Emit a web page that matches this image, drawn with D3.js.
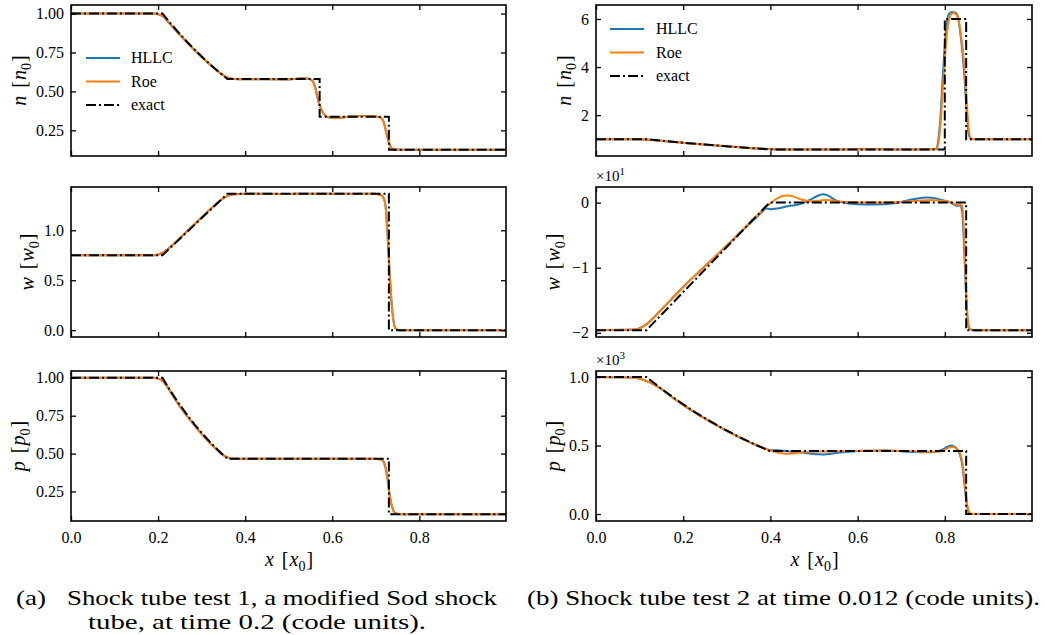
<!DOCTYPE html>
<html>
<head>
<meta charset="utf-8">
<script src="https://cdn.jsdelivr.net/npm/d3@7"></script>
<style>
  body { margin: 0; background: #fff; }
  svg text { font-family: "Liberation Serif", "Times New Roman", serif; fill: #000; }
</style>
</head>
<body>
<svg id="fig" width="1045" height="635"></svg>
<script>
// ---- test 1 (modified Sod), t = 0.2 ----
const xsL = [0, 0.19, 0.2, 0.21, 0.22, 0.23, 0.25, 0.27, 0.29, 0.31, 0.33, 0.345, 0.355, 0.365, 0.375, 0.4, 0.45, 0.5, 0.52, 0.535, 0.548, 0.556, 0.561, 0.566, 0.571, 0.577, 0.585, 0.595, 0.61, 0.64, 0.67, 0.695, 0.71, 0.717, 0.722, 0.727, 0.732, 0.738, 0.745, 0.755, 0.999];
const roeN1 = [1, 1, 0.996, 0.985, 0.958, 0.926, 0.864, 0.804, 0.748, 0.695, 0.646, 0.613, 0.594, 0.584, 0.58, 0.578, 0.578, 0.577, 0.582, 0.585, 0.58, 0.56, 0.52, 0.46, 0.41, 0.37, 0.342, 0.33, 0.329, 0.338, 0.342, 0.34, 0.332, 0.31, 0.26, 0.2, 0.155, 0.132, 0.126, 0.125, 0.125];
const hllcN1 = [1, 1, 0.996, 0.984, 0.957, 0.925, 0.863, 0.804, 0.748, 0.695, 0.646, 0.613, 0.595, 0.585, 0.58, 0.578, 0.578, 0.577, 0.581, 0.584, 0.58, 0.562, 0.523, 0.463, 0.412, 0.371, 0.343, 0.331, 0.33, 0.338, 0.342, 0.34, 0.333, 0.312, 0.262, 0.202, 0.156, 0.132, 0.126, 0.125, 0.125];
const roeW1 = [0.75, 0.751, 0.757, 0.775, 0.803, 0.84, 0.922, 1.005, 1.088, 1.17, 1.25, 1.305, 1.335, 1.352, 1.36, 1.365, 1.364, 1.364, 1.365, 1.366, 1.365, 1.365, 1.365, 1.365, 1.365, 1.365, 1.365, 1.365, 1.365, 1.364, 1.365, 1.365, 1.355, 1.33, 1.25, 0.95, 0.55, 0.18, 0.02, 0, 0];
const hllcW1 = [0.75, 0.751, 0.756, 0.774, 0.802, 0.839, 0.921, 1.004, 1.087, 1.17, 1.25, 1.304, 1.334, 1.352, 1.36, 1.365, 1.365, 1.364, 1.365, 1.366, 1.365, 1.365, 1.365, 1.365, 1.365, 1.365, 1.365, 1.365, 1.365, 1.365, 1.365, 1.365, 1.356, 1.33, 1.26, 0.96, 0.56, 0.19, 0.02, 0, 0];
const roeP1 = [1, 1, 0.995, 0.98, 0.948, 0.9, 0.813, 0.735, 0.663, 0.597, 0.538, 0.5, 0.48, 0.469, 0.466,
  0.466, 0.466, 0.466, 0.466, 0.466, 0.466, 0.466, 0.466, 0.466, 0.466, 0.466, 0.466, 0.466, 0.466, 0.466, 0.466, 0.466,
  0.462, 0.45, 0.41, 0.33, 0.22, 0.14, 0.105, 0.1, 0.1];
const hllcP1 = [1, 1, 0.995, 0.979, 0.947, 0.899, 0.812, 0.735, 0.663, 0.597, 0.538, 0.5, 0.481, 0.47, 0.466,
  0.466, 0.466, 0.466, 0.466, 0.466, 0.466, 0.466, 0.466, 0.466, 0.466, 0.466, 0.466, 0.466, 0.466, 0.466, 0.466, 0.466,
  0.463, 0.451, 0.413, 0.334, 0.224, 0.142, 0.106, 0.1, 0.1];
const xE1 = [0, 0.21, 0.2286, 0.2473, 0.2659, 0.2845, 0.3031, 0.3218, 0.3404, 0.359, 0.571, 0.571, 0.73, 0.73, 0.999];
const nE1 = [1, 1, 0.9371, 0.8775, 0.8209, 0.7672, 0.7165, 0.6684, 0.623, 0.58, 0.58, 0.337, 0.337, 0.125, 0.125];
const wE1 = [0.75, 0.75, 0.8269, 0.9038, 0.9806, 1.0575, 1.1344, 1.2113, 1.2881, 1.365, 1.365, 1.365, 1.365, 0, 0];
const pE1 = [1, 1, 0.9131, 0.8328, 0.7585, 0.69, 0.627, 0.569, 0.5156, 0.4658, 0.4658, 0.4658, 0.4658, 0.1, 0.1];

// ---- test 2, t = 0.012 ----
const xsR = [0, 0.09, 0.1, 0.11, 0.12, 0.13, 0.15, 0.18, 0.21, 0.24, 0.27, 0.3, 0.33, 0.36, 0.38, 0.39, 0.4, 0.41, 0.42, 0.43, 0.44, 0.45, 0.47, 0.49, 0.51, 0.52, 0.53, 0.55, 0.58, 0.62, 0.66, 0.7, 0.73, 0.76, 0.78, 0.785, 0.79, 0.795, 0.8, 0.805, 0.81, 0.815, 0.82, 0.825, 0.83, 0.835, 0.84, 0.845, 0.85, 0.855, 0.86, 0.87, 1.0];
const roeN2 = [1, 1, 0.997, 0.99, 0.978, 0.962, 0.93, 0.882, 0.834, 0.788, 0.744, 0.702, 0.662, 0.624, 0.602, 0.592, 0.584, 0.578, 0.574, 0.572, 0.571, 0.571, 0.572, 0.574, 0.575, 0.575, 0.575, 0.575, 0.576, 0.576, 0.576, 0.575, 0.575, 0.577, 0.58, 0.8, 1.6, 3.0, 4.3, 5.4, 6.0, 6.2, 6.25, 6.22, 6.05, 5.6, 4.9, 4.0, 2.6, 1.4, 1.03, 1, 1];
const hllcN2 = [1, 1, 0.997, 0.99, 0.978, 0.962, 0.93, 0.882, 0.834, 0.788, 0.744, 0.702, 0.662, 0.624, 0.602, 0.591, 0.582, 0.576, 0.572, 0.569, 0.567, 0.567, 0.569, 0.572, 0.574, 0.575, 0.575, 0.575, 0.576, 0.576, 0.576, 0.575, 0.575, 0.577, 0.6, 0.95, 1.9, 3.5, 4.9, 5.9, 6.22, 6.28, 6.28, 6.26, 6.1, 5.5, 4.7, 3.6, 2.2, 1.2, 1.01, 1, 1];
const roeW2 = [-19.597, -19.5, -19.3, -18.95, -18.45, -17.85, -16.45, -14.35, -12.3, -10.4, -8.5, -6.6, -4.6, -2.6, -1.3, -0.6, -0.1, 0.4, 0.8, 1.05, 1.1, 1.0, 0.5, 0.2, 0.3, 0.38, 0.4, 0.25, 0.05, 0, 0, 0.1, 0.25, 0.35, 0.35, 0.33, 0.3, 0.25, 0.2, 0.2, 0.15, 0.05, -0.1, -0.3, -0.35, -0.3, -0.5, -6, -15, -19, -19.5, -19.597, -19.597];
const hllcW2 = [-19.597, -19.5, -19.3, -18.95, -18.45, -17.85, -16.45, -14.35, -12.3, -10.4, -8.5, -6.6, -4.65, -2.75, -1.5, -0.9, -1.0, -0.95, -0.85, -0.7, -0.55, -0.45, -0.2, 0.4, 1.1, 1.3, 1.15, 0.35, -0.15, -0.3, -0.25, 0.1, 0.55, 0.8, 0.65, 0.55, 0.45, 0.35, 0.3, 0.2, 0.1, -0.05, -0.25, -0.45, -0.5, -0.45, -1.5, -8, -16, -19.2, -19.55, -19.597, -19.597];
const roeP2 = [1000, 995, 988, 978, 965, 950, 912, 840, 775, 715, 660, 607, 558, 513, 487, 475, 465, 455, 447, 442, 440, 442, 450, 455, 456, 456, 456, 458, 460, 462, 463, 462, 458, 455, 455, 456, 458, 463, 470, 478, 485, 490, 490, 482, 468, 440, 380, 250, 100, 20, 2, 0.01, 0.01];
const hllcP2 = [1000, 995, 988, 978, 965, 950, 912, 840, 775, 715, 660, 607, 558, 513, 487, 475, 466, 466, 464, 461, 458, 455, 449, 442, 436, 435, 437, 445, 455, 462, 463, 458, 452, 450, 455, 459, 464, 471, 480, 490, 497, 500, 496, 485, 465, 430, 360, 220, 80, 12, 1, 0.01, 0.01];
const xE2 = [0, 0.1158, 0.1511, 0.1864, 0.2216, 0.2569, 0.2922, 0.3275, 0.3627, 0.398, 0.8, 0.8, 0.849, 0.849, 1.0];
const nE2 = [1, 1, 0.9362, 0.8757, 0.8184, 0.7641, 0.7128, 0.6642, 0.6184, 0.5751, 0.5751, 5.9992, 5.9992, 1, 1];
const wE2 = [-19.597, -19.597, -17.148, -14.698, -12.248, -9.799, -7.349, -4.899, -2.45, 0, 0, 0, 0, -19.597, -19.597];
const pE2 = [1000, 1000, 911.9, 830.5, 755.4, 686.2, 622.5, 563.9, 510.2, 460.9, 460.9, 460.9, 460.9, 0.01, 0.01];

const xTicks = [0, 0.2, 0.4, 0.6, 0.8];
const seriesNames = ["HLLC", "Roe", "exact"];
const colors = { HLLC: "#1f77b4", Roe: "#ff7f0e", exact: "#000" };

// layout
const cols = [
  { x0: 71, x1: 506, dom: [0, 0.999], xs: xsL, xe: xE1 },
  { x0: 596, x1: 1032, dom: [0, 1.0], xs: xsR, xe: xE2 }
];
const rows = [[5, 156], [187, 337], [371, 521]];

const panels = [
  { c: 0, r: 0, sym: "n", hllc: hllcN1, roe: roeN1, ex: nE1, yd: [0.085, 1.055], yt: [0.25, 0.5, 0.75, 1], fmt: d3.format(".2f"), lx: 19 },
  { c: 0, r: 1, sym: "w", hllc: hllcW1, roe: roeW1, ex: wE1, yd: [-0.068, 1.433], yt: [0, 0.5, 1], fmt: d3.format(".1f"), lx: 27 },
  { c: 0, r: 2, sym: "p", hllc: hllcP1, roe: roeP1, ex: pE1, yd: [0.055, 1.045], yt: [0.25, 0.5, 0.75, 1], fmt: d3.format(".2f"), lx: 18 },
  { c: 1, r: 0, sym: "n", hllc: hllcN2, roe: roeN2, ex: nE2, yd: [0.30, 6.58], yt: [2, 4, 6], fmt: d3.format("d"), lx: 564 },
  { c: 1, r: 1, sym: "w", hllc: hllcW2, roe: roeW2, ex: wE2, yd: [-20.65, 2.4], yt: [-20, -10, 0], fmt: d => d3.format("d")(d / 10).replace("-", "\u2212"), lx: 553, mult: "1" },
  { c: 1, r: 2, sym: "p", hllc: hllcP2, roe: roeP2, ex: pE2, yd: [-51, 1044], yt: [0, 500, 1000], fmt: d => d3.format(".1f")(d / 1000), lx: 553, mult: "3" }
];

const svg = d3.select("#fig");
const tickLen = 5;

// label like "n [n0]" with italic symbol and subscript zero
function mathLabel(t, sym) {
  t.append("tspan").attr("font-style", "italic").text(sym);
  t.append("tspan").attr("dx", 3).text(" [");
  t.append("tspan").attr("font-style", "italic").attr("dx", 1).text(sym);
  t.append("tspan").attr("font-size", "14px").attr("dy", 5).text("0");
  t.append("tspan").attr("dy", -5).attr("dx", 1).text("]");
}

panels.forEach((p, i) => {
  const col = cols[p.c];
  const [y0, y1] = rows[p.r];
  const x = d3.scaleLinear().domain(col.dom).range([col.x0, col.x1]);
  const y = d3.scaleLinear().domain(p.yd).range([y1, y0]);
  const g = svg.append("g");

  g.append("clipPath").attr("id", "clip" + i)
    .append("rect").attr("x", col.x0).attr("y", y0).attr("width", col.x1 - col.x0).attr("height", y1 - y0);

  const numLine = d3.line().x(d => x(d[0])).y(d => y(d[1])).curve(d3.curveMonotoneX);
  const exLine = d3.line().x(d => x(d[0])).y(d => y(d[1]));
  const lines = g.append("g").attr("clip-path", `url(#clip${i})`);
  lines.append("path").datum(d3.zip(col.xs, p.hllc)).attr("d", numLine)
    .attr("fill", "none").attr("stroke", colors.HLLC).attr("stroke-width", 2);
  lines.append("path").datum(d3.zip(col.xs, p.roe)).attr("d", numLine)
    .attr("fill", "none").attr("stroke", colors.Roe).attr("stroke-width", 2);
  lines.append("path").datum(d3.zip(col.xe, p.ex)).attr("d", exLine)
    .attr("fill", "none").attr("stroke", colors.exact).attr("stroke-width", 2)
    .attr("stroke-dasharray", "10,3,2,3");

  // ticks inward on all four sides
  const bottom = g.append("g").attr("transform", `translate(0,${y1})`)
    .call(d3.axisBottom(x).tickValues(xTicks).tickSize(-tickLen).tickPadding(8)
      .tickFormat(p.r === 2 ? d3.format(".1f") : () => ""));
  const top = g.append("g").attr("transform", `translate(0,${y0})`)
    .call(d3.axisTop(x).tickValues(xTicks).tickSize(-tickLen).tickFormat(() => ""));
  const left = g.append("g").attr("transform", `translate(${col.x0},0)`)
    .call(d3.axisLeft(y).tickValues(p.yt).tickSize(-tickLen).tickPadding(7).tickFormat(p.fmt));
  const right = g.append("g").attr("transform", `translate(${col.x1},0)`)
    .call(d3.axisRight(y).tickValues(p.yt).tickSize(-tickLen).tickFormat(() => ""));
  [bottom, top, left, right].forEach(a => {
    a.select(".domain").remove();
    a.selectAll("line").attr("stroke", "#000").attr("stroke-width", 1.3);
    a.selectAll("text").style("font-size", "16px").style("font-family", '"Liberation Serif", serif').attr("fill", "#000");
  });
  bottom.selectAll("text").attr("dy", "0.85em");

  g.append("rect").attr("x", col.x0).attr("y", y0).attr("width", col.x1 - col.x0).attr("height", y1 - y0)
    .attr("fill", "none").attr("stroke", "#000").attr("stroke-width", 1.6);

  // y label
  const yl = g.append("text").attr("transform", `translate(${p.lx},${(y0 + y1) / 2}) rotate(-90)`)
    .attr("text-anchor", "middle").attr("dy", "0.35em").style("font-size", "20px");
  mathLabel(yl, p.sym);

  if (p.mult) {
    const m = g.append("text").attr("x", col.x0).attr("y", y0 - 6).style("font-size", "15px");
    m.append("tspan").text("\u00d710");
    m.append("tspan").attr("font-size", "11px").attr("dy", "-6").text(p.mult);
  }

  if (p.r === 2) {
    const xl = g.append("text").attr("x", (col.x0 + col.x1) / 2 + 0.5).attr("y", 566)
      .attr("text-anchor", "middle").style("font-size", "20px");
    mathLabel(xl, "x");
  }

  if (p.r === 0) {
    const lg = p.c === 0 ? { x: 86, y: 58, tx: 131 } : { x: 610, y: 29, tx: 656 };
    seriesNames.forEach((s, k) => {
      const yy = lg.y + k * 23.5;
      g.append("line").attr("x1", lg.x).attr("x2", lg.x + 34).attr("y1", yy).attr("y2", yy)
        .attr("stroke", colors[s]).attr("stroke-width", 2)
        .attr("stroke-dasharray", s === "exact" ? "10,3,2,3" : null);
      g.append("text").attr("x", lg.tx).attr("y", yy).attr("dy", "0.33em")
        .style("font-size", "16px").text(s);
    });
  }
});

// captions
const cap = svg.append("g").style("font-size", "22px");
cap.append("text").attr("x", 16).attr("y", 605).attr("textLength", 30).attr("lengthAdjust", "spacingAndGlyphs").text("(a)");
cap.append("text").attr("x", 67).attr("y", 605).attr("textLength", 430).attr("lengthAdjust", "spacingAndGlyphs")
  .text("Shock tube test 1, a modified Sod shock");
cap.append("text").attr("x", 88).attr("y", 629).attr("textLength", 338).attr("lengthAdjust", "spacingAndGlyphs")
  .text("tube, at time 0.2 (code units).");
cap.append("text").attr("x", 527).attr("y", 605).attr("textLength", 513).attr("lengthAdjust", "spacingAndGlyphs")
  .text("(b) Shock tube test 2 at time 0.012 (code units).");
</script>
</body>
</html>
